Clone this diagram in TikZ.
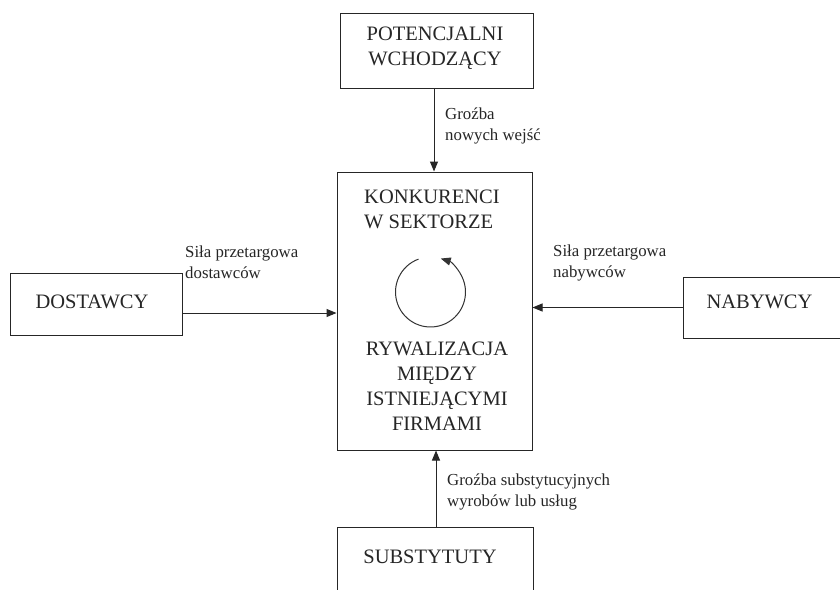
\documentclass[tikz,border=0pt]{standalone}
\usepackage{fontspec}
\setmainfont{Liberation Serif}
\usetikzlibrary{arrows.meta,calc}
\begin{document}
\begin{tikzpicture}[x=1pt,y=-1pt,
  box/.style={draw=black!85,line width=1pt,rectangle,inner sep=0pt},
  boxtext/.style={font=\fontsize{20.5}{25}\selectfont,align=center,inner sep=0pt,text=black!85},
  lbl/.style={font=\fontsize{16.8}{21}\selectfont,align=left,inner sep=0pt,anchor=west,text=black!85},
  conn/.style={draw=black!85,line width=1pt,-{Triangle[length=10pt,width=8pt]}}]
\useasboundingbox (0,0) rectangle (840,589);
\clip (0,0) rectangle (840,589);
\fill[white] (0,0) rectangle (840,589);
% boxes
\node[box,minimum width=193pt,minimum height=75pt] (pot) at (436.5,50.5) {};
\node[box,minimum width=195pt,minimum height=278pt] (konk) at (434.5,311) {};
\node[box,minimum width=172pt,minimum height=62pt] (dost) at (96,304) {};
\node[box,minimum width=175pt,minimum height=61pt] (nab) at (770.5,307.5) {};
\node[box,minimum width=196pt,minimum height=80pt] (sub) at (435,567) {};
% box texts
\node[boxtext] (potT) at (435,48) {POTENCJALNI\\WCHODZĄCY};
\node[boxtext,align=left,anchor=west] (konkT) at (364,209) {KONKURENCI\\W SEKTORZE};
\node[boxtext] (ryw) at (437,386) {RYWALIZACJA\\MIĘDZY\\ISTNIEJĄCYMI\\FIRMAMI};
\node[boxtext] (dostT) at (92,302) {DOSTAWCY};
\node[boxtext] (nabT) at (759.5,302) {NABYWCY};
\node[boxtext] (subT) at (430,557) {SUBSTYTUTY};
% circle
\coordinate (cc) at (430.5,292);
\draw[draw=black!80,line width=1pt,-{Triangle[length=10pt,width=8pt]}]
  ($(cc)+(-110:35)$) arc[start angle=-110,end angle=-433,radius=35];
% connectors
\draw[conn] (pot.south -| 434,0) -- (konk.north -| 434,0);
\coordinate (dl) at ($(dost.east)+(0,9)$);
\draw[conn] (dl) -- (dl -| konk.west);
\draw[conn] (nab.west) -- (nab.west -| konk.east);
\draw[conn] (sub.north -| 436,0) -- (konk.south -| 436,0);
% labels
\node[lbl] (l1) at (445,126) {Groźba\\nowych wejść};
\node[lbl] (l2) at (185,262) {Siła przetargowa\\dostawców};
\node[lbl] (l3) at (553,263) {Siła przetargowa\\nabywców};
\node[lbl] (l4) at (447,492) {Groźba substytucyjnych\\wyrobów lub usług};
\end{tikzpicture}
\end{document}
